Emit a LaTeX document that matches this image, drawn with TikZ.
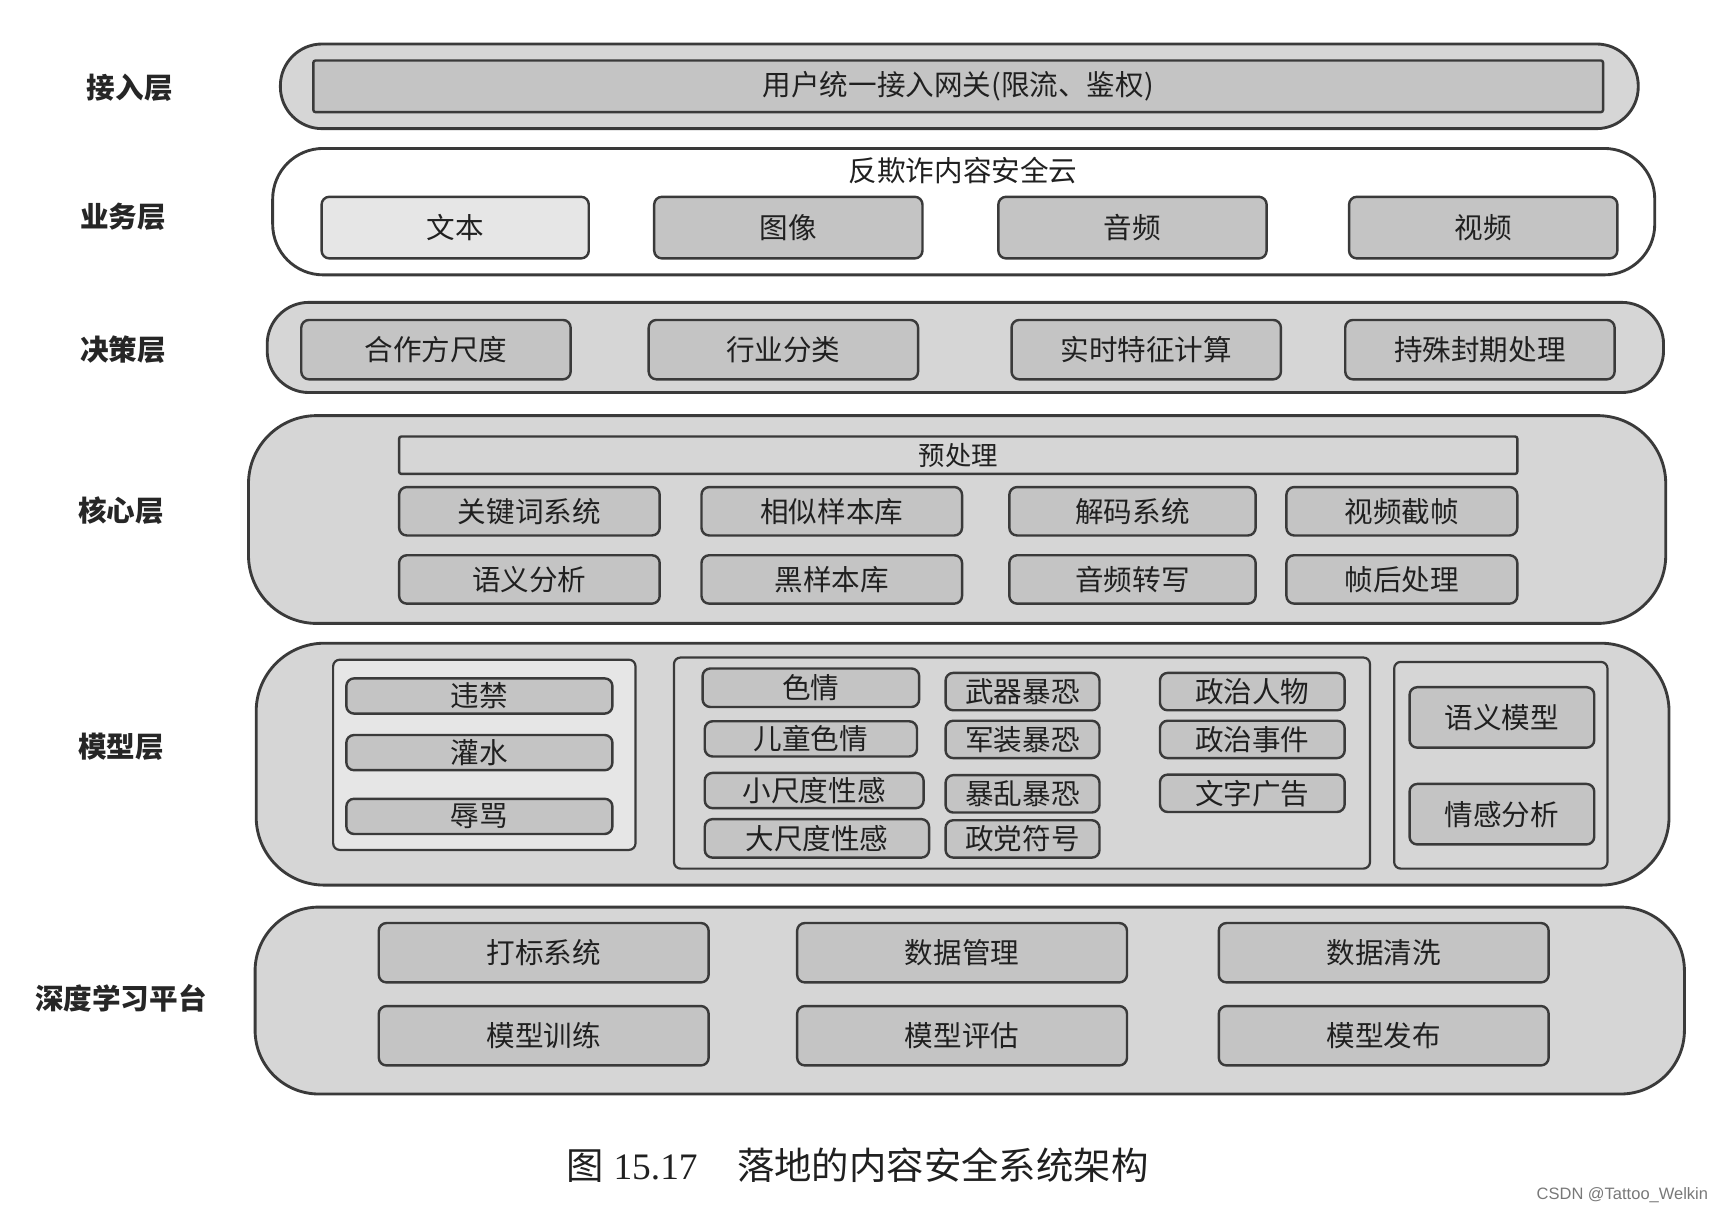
\documentclass[tikz,border=0pt]{standalone}
\usepackage{fontspec}
\setmainfont{Liberation Serif}
\setsansfont{Liberation Sans}
\newfontfamily\cjk{Noto Sans CJK SC}
\usetikzlibrary{positioning}
\definecolor{lyBorder}{RGB}{ 58, 58, 58}
\definecolor{lyFill}  {RGB}{214,214,214}
\definecolor{lyBox}   {RGB}{196,196,196}
\definecolor{lyLight} {RGB}{230,230,230}
\definecolor{lyText}  {RGB}{ 32, 32, 32}
\definecolor{lyMark}  {RGB}{120,120,120}

\begin{document}
\begin{tikzpicture}[x=1pt,y=-1pt,
  every node/.style={font=\cjk\fontsize{26}{30}\selectfont,text=lyText},
  sz/.style 2 args={minimum width=#1,minimum height=#2},
  layer/.style={draw=lyBorder,fill=lyFill,line width=2.6pt,rounded corners=38pt,
                inner sep=0pt},
  biglayer/.style={layer,rounded corners=62pt},
  grp/.style ={draw=lyBorder,fill=lyFill,line width=2pt,rounded corners=6pt,inner sep=0pt},
  box/.style ={draw=lyBorder,fill=lyBox,line width=2.2pt,rounded corners=7pt,inner sep=0pt},
  bar/.style ={draw=lyBorder,fill=lyBox,line width=2.2pt,rounded corners=2pt,inner sep=0pt},
  tag/.style ={font=\cjk\bfseries\fontsize{26}{30}\selectfont,text=black!85}
]
\useasboundingbox (0,0) rectangle (1568,1104);

% layer tags
\node[tag] (tagA) at (118, 80) {接入层};
\node[tag] (tagB) at (112,197) {业务层};
\node[tag] (tagC) at (112,318) {决策层};
\node[tag] (tagD) at (110,464) {核心层};
\node[tag] (tagE) at (110,679) {模型层};
\node[tag] (tagF) at (110,908) {深度学习平台};

% access
\node[layer,sz={1235}{77}] (L1) at (872.5,78.5) {};
\node[bar,sz={1173}{47}] (gate) at (871.5,78.5) {用户统一接入网关(限流、鉴权)};

% business
\node[layer,fill=white,sz={1257}{115},rounded corners=46pt] (L2) at (876.5,192.5) {};
\node (cloud) at (876,155) {反欺诈内容安全云};
\node[box,sz={243}{56},fill=lyLight] (txt) at (414,207) {文本};
\foreach \n/\t/\x in {img/图像/717, aud/音频/1030, vid/视频/1349}
  \node[box,sz={244}{56}] (\n) at (\x,207) {\t};

% decision
\node[layer,sz={1270}{82}] (L3) at (878,316) {};
\foreach \n/\t/\x in {partner/合作方尺度/396.5, industry/行业分类/712.5,
                      feature/实时特征计算/1042.5, special/持殊封期处理/1346}
  \node[box,sz={245}{54}] (\n) at (\x,318) {\t};

% core
\node[biglayer,sz={1289}{189}] (L4) at (870.5,472.5) {};
\node[bar,fill=lyFill,sz={1017}{34},font=\cjk\fontsize{24}{28}\selectfont] (pre) at (871.5,414) {预处理};
\node[box,sz={237}{44}] (kw)   at (481.5,465) {关键词系统};
\node[box,sz={237}{44}] (sim)  at (756.5,465) {相似样本库};
\node[box,sz={224}{44}] (dec)  at (1030,465)  {解码系统};
\node[box,sz={210}{44}] (cut)  at (1275,465)  {视频截帧};
\node[box,sz={237}{44}] (sem)  at (481.5,527) {语义分析};
\node[box,sz={237}{44}] (blk)  at (756.5,527) {黑样本库};
\node[box,sz={224}{44}] (asr)  at (1030,527)  {音频转写};
\node[box,sz={210}{44}] (post) at (1275,527)  {帧后处理};

% model
\node[biglayer,sz={1285}{220}] (L5) at (875.5,695) {};
\node[grp,fill=lyLight,sz={275}{173}] (gLeft)  at (440.5,686.5) {};
\node[grp,sz={633}{192}]              (gMid)   at (929.5,694)   {};
\node[grp,sz={194}{188}]              (gRight) at (1365,696)    {};
\foreach \n/\t/\y in {ban/违禁/633, spam/灌水/684.5, abuse/辱骂/742.5}
  \node[box,sz={242}{32}] (\n) at (436,\y) {\t};
\node[box,sz={197}{35}] (porn)  at (737.5,625.5) {色情};
\node[box,sz={193}{32}] (child) at (737.5,672)   {儿童色情};
\node[box,sz={199}{32}] (small) at (740.5,719)   {小尺度性感};
\node[box,sz={204}{35}] (large) at (743,762.5)   {大尺度性感};
\foreach \n/\t/\y in {weapon/武器暴恐/629, army/军装暴恐/672.5, riot/暴乱暴恐/722, party/政党符号/763}
  \node[box,sz={140}{34}] (\n) at (930,\y) {\t};
\foreach \n/\t/\y in {person/政治人物/629, event/政治事件/672.5, adtext/文字广告/721.5}
  \node[box,sz={168}{34}] (\n) at (1139,\y) {\t};
\node[box,sz={168}{55}] (semmod) at (1366,652.5) {语义模型};
\node[box,sz={168}{55}] (emo)    at (1366,740.5) {情感分析};

% deep learning platform
\node[biglayer,sz={1300}{170},rounded corners=58pt] (L6) at (882,910) {};
\foreach \n/\t/\x/\y in {label/打标系统/494.5/866.5, data/数据管理/875/866.5, clean/数据清洗/1258.5/866.5,
                         train/模型训练/494.5/942, evalm/模型评估/875/942, deploy/模型发布/1258.5/942}
  \node[box,sz={300}{54}] (\n) at (\x,\y) {\t};

% caption
\node[font=\rmfamily\fontsize{34}{40}\selectfont] (cap) at (780,1060)
  {{\cjk 图} 15.17\hspace{36pt}{\cjk 落地的内容安全系统架构}};
\node[font=\sffamily\fontsize{15}{18}\selectfont,text=lyMark,anchor=east] (mark) at (1557,1087)
  {CSDN @Tattoo\_Welkin};
\end{tikzpicture}
\end{document}
